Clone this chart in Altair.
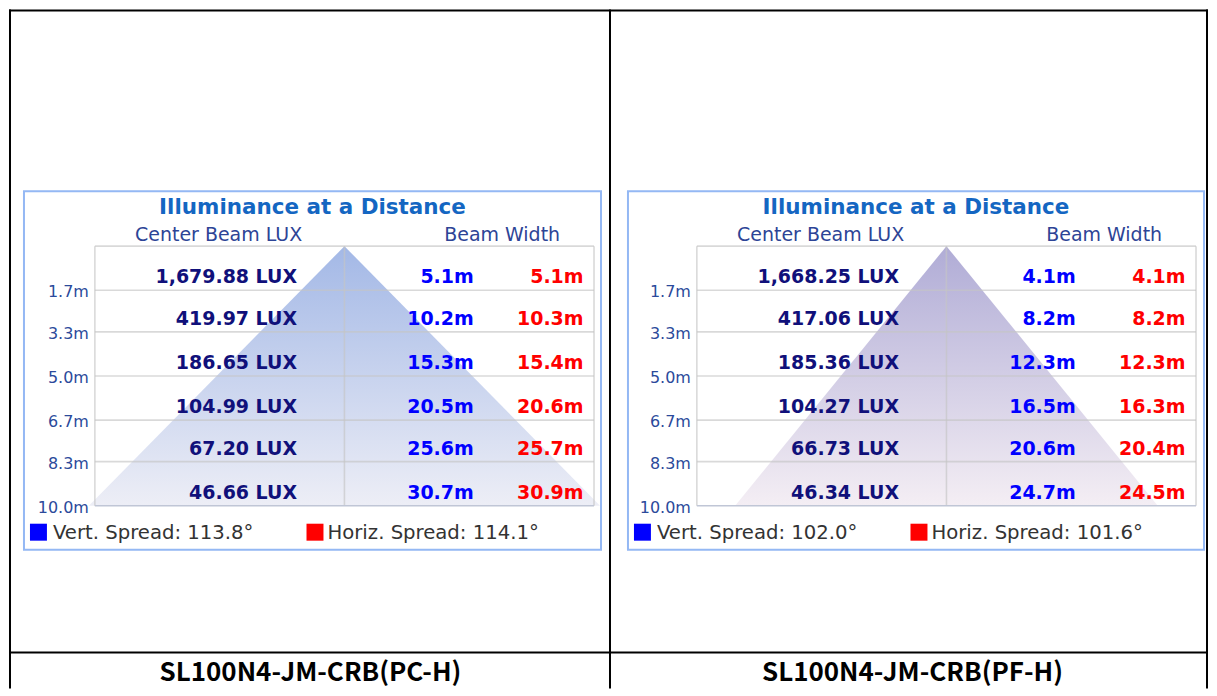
import altair as alt
import pandas as pd

# ---------------- data ----------------
DEPTHS = [1.7, 3.3, 5.0, 6.7, 8.3, 10.0]
DEPTH_LABELS = ["1.7m", "3.3m", "5.0m", "6.7m", "8.3m", "10.0m"]

TITLE = "Illuminance at a Distance"
HEAD_LUX = "Center Beam LUX"
HEAD_BEAM = "Beam Width"

P1_NAME = "SL100N4-JM-CRB(PC-H)"
P1_LUX = [1679.88, 419.97, 186.65, 104.99, 67.20, 46.66]
P1_VERT = [5.1, 10.2, 15.3, 20.5, 25.6, 30.7]
P1_HORIZ = [5.1, 10.3, 15.4, 20.6, 25.7, 30.9]
P1_VSPREAD = "113.8°"
P1_HSPREAD = "114.1°"
P1_HALF = 15.36   # half width of the drawn beam cone at 10 m

P2_NAME = "SL100N4-JM-CRB(PF-H)"
P2_LUX = [1668.25, 417.06, 185.36, 104.27, 66.73, 46.34]
P2_VERT = [4.1, 8.2, 12.3, 16.5, 20.6, 24.7]
P2_HORIZ = [4.1, 8.2, 12.3, 16.3, 20.4, 24.5]
P2_VSPREAD = "102.0°"
P2_HSPREAD = "101.6°"
P2_HALF = 12.7

FONT = "DejaVu Sans"
X = alt.Scale(domain=[-15, 15], range=[86, 586])
Y = alt.Scale(domain=[0, 10], range=[237, 497])
H = 680


def one(**kw):
    return pd.DataFrame({k: [v] for k, v in kw.items()})


def panel(name, lux, vert, horiz, vsp, hsp, half, c_top, c_bot, W, box_l, box_r, cap_x):
    rows = pd.DataFrame({
        "depth": DEPTHS, "dlab": DEPTH_LABELS,
        "lux": lux, "vert": vert, "horiz": horiz,
    })
    base = alt.Chart(rows).transform_calculate(
        luxlab="format(datum.lux, ',.2f') + ' LUX'",
        vlab="format(datum.vert, '.1f') + 'm'",
        hlab="format(datum.horiz, '.1f') + 'm'",
    )
    yq = alt.Y("depth:Q", scale=Y, axis=None)

    layers = []
    # outer table frame
    layers.append(alt.Chart(one(k=0)).mark_rule(color="black", strokeWidth=2).encode(
        x=alt.value(0), x2=alt.value(W), y=alt.value(1)))
    layers.append(alt.Chart(one(k=0)).mark_rule(color="black", strokeWidth=2).encode(
        x=alt.value(0), x2=alt.value(W), y=alt.value(644)))
    # inner white box
    layers.append(alt.Chart(one(k=0)).mark_rect(fill="white", stroke="#94b8f4", strokeWidth=2).encode(
        x=alt.value(box_l), x2=alt.value(box_r), y=alt.value(182), y2=alt.value(541)))

    # beam cone
    cone = pd.DataFrame({"x": [-half, 0, half], "y": [10, 0, 10]})
    grad = {"gradient": "linear", "x1": 1, "x2": 1, "y1": 0, "y2": 1,
            "stops": [{"offset": 0, "color": c_top}, {"offset": 1, "color": c_bot}]}
    layers.append(alt.Chart(cone).mark_area(color=grad, opacity=1, line=False).encode(
        x=alt.X("x:Q", scale=X, axis=None),
        y=alt.Y("y:Q", scale=Y, axis=None),
        y2=alt.Y2Datum(10)))

    # grid
    hg = pd.DataFrame({"g": [0] + DEPTHS[:-1]})
    layers.append(alt.Chart(hg).mark_rule(color="#c4c4c4", strokeWidth=1.6, opacity=0.65).encode(
        x=alt.XDatum(-15, scale=X, axis=None), x2=alt.X2Datum(15),
        y=alt.Y("g:Q", scale=Y, axis=None)))
    vg = pd.DataFrame({"v": [-15, 0, 15]})
    layers.append(alt.Chart(vg).mark_rule(color="#c4c4c4", strokeWidth=1.6, opacity=0.65).encode(
        x=alt.X("v:Q", scale=X, axis=None),
        y=alt.YDatum(0, scale=Y, axis=None), y2=alt.Y2Datum(10)))
    layers.append(alt.Chart(one(k=0)).mark_rule(color="#c0c6d6", strokeWidth=1.6).encode(
        x=alt.XDatum(-15, scale=X, axis=None), x2=alt.X2Datum(15),
        y=alt.YDatum(10, scale=Y, axis=None)))

    # depth labels
    layers.append(base.mark_text(align="right", baseline="middle", dx=-6, dy=2,
                                 font=FONT, fontSize=16, color="#2b4a9b").encode(
        x=alt.XDatum(-15, scale=X, axis=None), y=yq, text="dlab:N"))
    # values
    layers.append(base.mark_text(align="right", baseline="middle", dy=-13, font=FONT,
                                 fontSize=19, fontWeight="bold", color="#10107a").encode(
        x=alt.XDatum(-2.85, scale=X, axis=None), y=yq, text="luxlab:N"))
    layers.append(base.mark_text(align="right", baseline="middle", dy=-13, font=FONT,
                                 fontSize=19, fontWeight="bold", color="#0000ff").encode(
        x=alt.XDatum(7.77, scale=X, axis=None), y=yq, text="vlab:N"))
    layers.append(base.mark_text(align="right", baseline="middle", dy=-13, font=FONT,
                                 fontSize=19, fontWeight="bold", color="#ff0000").encode(
        x=alt.XDatum(14.37, scale=X, axis=None), y=yq, text="hlab:N"))

    # titles
    layers.append(alt.Chart(one(t=TITLE)).mark_text(
        align="center", baseline="middle", font=FONT, fontSize=21.5, fontWeight="bold",
        color="#1466c2").encode(x=alt.value((box_l + box_r) / 2), y=alt.value(199), text="t:N"))
    layers.append(alt.Chart(one(t=HEAD_LUX)).mark_text(
        align="center", baseline="middle", font=FONT, fontSize=19, color="#2d4496").encode(
        x=alt.XDatum(-7.56, scale=X, axis=None), y=alt.value(226), text="t:N"))
    layers.append(alt.Chart(one(t=HEAD_BEAM)).mark_text(
        align="center", baseline="middle", font=FONT, fontSize=19, color="#2d4496").encode(
        x=alt.XDatum(9.48, scale=X, axis=None), y=alt.value(226), text="t:N"))

    # legend
    layers.append(alt.Chart(one(k=0)).mark_rect(color="#0000ff").encode(
        x=alt.value(box_l + 6), x2=alt.value(box_l + 23), y=alt.value(515), y2=alt.value(532)))
    layers.append(alt.Chart(one(k=0)).mark_rect(color="#ff0000").encode(
        x=alt.value(box_l + 283), x2=alt.value(box_l + 300), y=alt.value(515), y2=alt.value(532)))
    layers.append(alt.Chart(one(t="Vert. Spread: " + vsp)).mark_text(
        align="left", baseline="middle", font=FONT, fontSize=19.7, color="#333333").encode(
        x=alt.value(box_l + 29), y=alt.value(524), text="t:N"))
    layers.append(alt.Chart(one(t="Horiz. Spread: " + hsp)).mark_text(
        align="left", baseline="middle", font=FONT, fontSize=19.7, color="#333333").encode(
        x=alt.value(box_l + 304), y=alt.value(524), text="t:N"))

    # caption
    layers.append(alt.Chart(one(t=name)).mark_text(
        align="center", baseline="middle", font="Noto Sans CJK KR", fontSize=26,
        fontWeight="bold", color="black").encode(
        x=alt.value(cap_x), y=alt.value(665), text="t:N"))

    return layers


W1, W2 = 603, 598
l1 = panel(P1_NAME, P1_LUX, P1_VERT, P1_HORIZ, P1_VSPREAD, P1_HSPREAD, P1_HALF,
           "#a3b8e6", "#edeef6", W1, 15, 593, 302)
l1.append(alt.Chart(one(k=0)).mark_rule(color="black", strokeWidth=2).encode(
    x=alt.value(1), y=alt.value(0), y2=alt.value(H)))
l1.append(alt.Chart(one(k=0)).mark_rule(color="black", strokeWidth=2).encode(
    x=alt.value(W1 - 1), y=alt.value(0), y2=alt.value(H)))

l2 = panel(P2_NAME, P2_LUX, P2_VERT, P2_HORIZ, P2_VSPREAD, P2_HSPREAD, P2_HALF,
           "#b0acd6", "#f4eef4", W2, 17, 594, 302)
l2.append(alt.Chart(one(k=0)).mark_rule(color="black", strokeWidth=2).encode(
    x=alt.value(W2 - 1), y=alt.value(0), y2=alt.value(H)))

c1 = alt.layer(*l1).properties(width=W1, height=H)
c2 = alt.layer(*l2).properties(width=W2, height=H)

chart = alt.hconcat(c1, c2, spacing=0, bounds="flush").configure_view(
    strokeWidth=0).properties(padding=0)

chart.save("out.html", embed_options={"renderer": "svg", "actions": False})
